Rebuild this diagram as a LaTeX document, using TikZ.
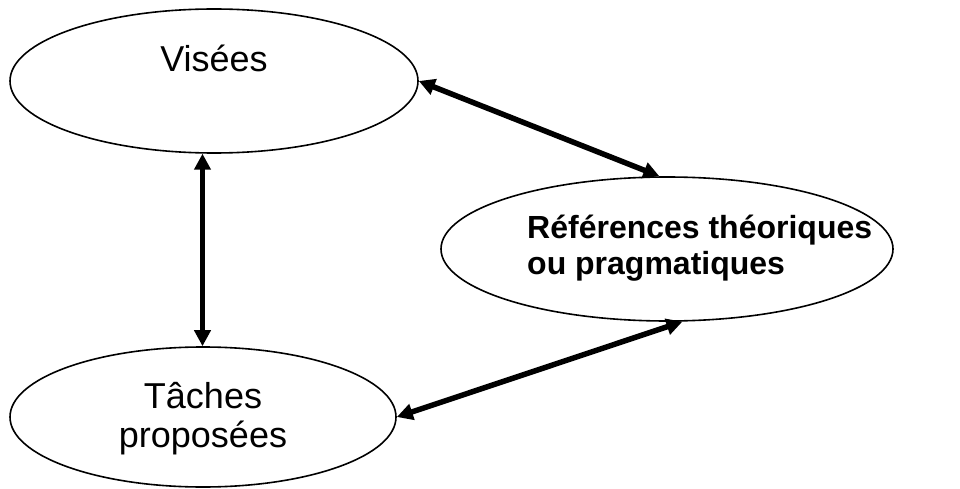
\documentclass[tikz,border=0pt]{standalone}
\usepackage{fontspec}
\setmainfont{Liberation Sans}
\usetikzlibrary{shapes.geometric,arrows.meta}
\begin{document}
\begin{tikzpicture}[x=1pt,y=-1pt,
  ell/.style={draw, ellipse, line width=1.6pt, inner sep=0pt},
  bigtext/.style={font=\fontsize{36}{39}\selectfont, align=center, inner sep=0pt},
  reftext/.style={font=\fontsize{32}{35}\selectfont\bfseries, align=left, inner sep=0pt},
  biarrow/.style={line width=5.5pt, {Triangle[length=16pt,width=16pt]}-{Triangle[length=16pt,width=16pt]}},
]
\useasboundingbox (0,0) rectangle (960,489);
% ellipses
\node[ell, minimum width=408pt, minimum height=144pt] (vis) at (214,81) {};
\node[ell, minimum width=386pt, minimum height=140pt] (tac) at (203,417) {};
\node[ell, minimum width=452pt, minimum height=144pt] (ref) at (667,249) {};
% texts
\node[bigtext, anchor=base] (vist) at (214,72) {Visées};
\node[bigtext, anchor=base] (tact1) at (203,408) {Tâches};
\node[bigtext, anchor=base] (tact2) at (203,447) {proposées};
\node[reftext, anchor=base west] (reft1) at (527,238) {Références théoriques};
\node[reftext, anchor=base west] (reft2) at (527,274) {ou pragmatiques};
% connectors
\draw[biarrow] (vis.-99) -- (vis.-99 |- tac.north);
\draw[biarrow] (vis.0) -- (ref.96);
\draw[biarrow] (ref.-78) -- (tac.0);
\end{tikzpicture}
\end{document}
